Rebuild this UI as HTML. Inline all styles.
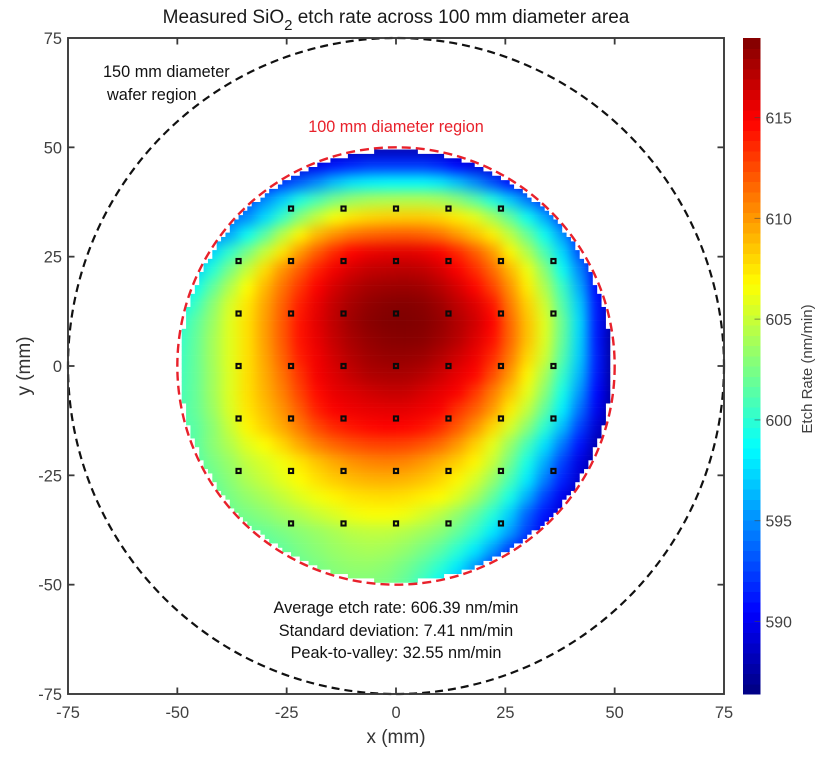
<!DOCTYPE html>
<html lang="en">
<head>
<meta charset="utf-8">
<title>Measured SiO2 etch rate</title>
<style>
html,body{margin:0;padding:0;background:#fff;width:831px;height:758px;overflow:hidden}
svg{display:block;font-family:"Liberation Sans",Arial,sans-serif;filter:blur(0.35px)}
</style>
</head>
<body>
<svg id="chart" xmlns="http://www.w3.org/2000/svg" width="831" height="758" viewBox="0 0 831 758">
  <defs>
    <clipPath id="wafer-clip"></clipPath>
    <filter id="smooth" filterUnits="userSpaceOnUse" x="100" y="90" width="600" height="560" color-interpolation-filters="sRGB">
      <feGaussianBlur stdDeviation="6.5"/>
    </filter>
  </defs>
  <rect width="831" height="758" fill="#fff"/>
  <g clip-path="url(#wafer-clip)">
    <g id="heatmap" filter="url(#smooth)" shape-rendering="crispEdges"></g>
  </g>
  <circle id="outer-circle" fill="none" stroke="#111" stroke-width="2.2" stroke-dasharray="8 5"/>
  <circle id="inner-circle" fill="none" stroke="#e8212b" stroke-width="2.4" stroke-dasharray="9 5"/>
  <g id="points"></g>
  <rect id="plot-box" fill="none" stroke="#3a3a3a" stroke-width="1.9"/>
  <g id="ticks" stroke="#3a3a3a" stroke-width="1.8"></g>
  <g id="tick-labels" font-size="16.4" fill="#404040"></g>

  <text x="396" y="23" text-anchor="middle" font-size="19" fill="#1a1a1a">Measured SiO<tspan dy="7" font-size="15">2</tspan><tspan dy="-7"> etch rate across 100 mm diameter area</tspan></text>
  <text x="396" y="743" text-anchor="middle" font-size="19" fill="#333">x (mm)</text>
  <text transform="translate(30,366) rotate(-90)" text-anchor="middle" font-size="19" fill="#333">y (mm)</text>
  <text x="103" y="77" font-size="16.3" fill="#111">150 mm diameter</text>
  <text x="107" y="100" font-size="16.3" fill="#111">wafer region</text>
  <text x="396" y="132" text-anchor="middle" font-size="16.2" fill="#e8212b">100 mm diameter region</text>
  <text x="396" y="613" text-anchor="middle" font-size="16.3" fill="#111">Average etch rate: 606.39 nm/min</text>
  <text x="396" y="636" text-anchor="middle" font-size="16.3" fill="#111">Standard deviation: 7.41 nm/min</text>
  <text x="396" y="658" text-anchor="middle" font-size="16.3" fill="#111">Peak-to-valley: 32.55 nm/min</text>

  <g id="colorbar" shape-rendering="crispEdges"></g>
  <g id="colorbar-ticks"></g>
  <text transform="translate(812,369) rotate(-90)" text-anchor="middle" font-size="15" fill="#404040">Etch Rate (nm/min)</text>
</svg>
<script>
// ---- data ----
const xCentersMm = [-50,-46,-42,-38,-34,-30,-26,-22,-18,-14,-10,-6,-2,2,6,10,14,18,22,26,30,34,38,42,46,50];
const yCentersMm = [50,46,42,38,34,30,26,22,18,14,10,6,2,-2,-6,-10,-14,-18,-22,-26,-30,-34,-38,-42,-46,-50];
const etchRate = [
[586.8,586.8,586.8,586.8,586.8,586.8,586.8,587,587,587.5,588,588,588,588,588,588,587.5,587,587,586.8,586.8,586.8,586.8,586.8,586.8,586.8],
[587,587,587,587,587.5,588,588.5,589.3,590,591,591.5,592,592,592,592,591.5,590.5,589.5,589,588,587.5,587,587,587,587,587],
[588,588,588.5,589,590,591,592.3,593.5,595,596.7,597.8,598.3,598.5,598.5,598.5,598,596.7,595,593,591,589.5,588,587.5,587,587,587],
[589,589.5,590.5,591.5,593,595,597,599.5,601,602.5,603.5,604,604.2,604.3,604.3,604,603,601.5,599.5,597,594.5,592,589.5,588,587.5,587],
[590,591,592.5,594,595,597.5,600.3,603,605,606.6,607.5,608,608.2,608.3,608.3,608,607.3,606,604,601.8,599,596,592.5,589.5,588,587],
[591,592.5,594.5,596,599,601.5,604.5,607,609,610.3,611.2,611.7,611.9,612,611.8,611.2,610,608.7,607.2,604.7,602,599,595.5,591.5,588.5,587],
[592.5,595,597.5,600.2,602.5,605,607.5,610,612,613.7,614.9,615.5,615.7,615.8,615.6,615,613.7,612,610,607,604.3,601,597.5,593,589.5,587],
[594.5,597,599.8,602.5,605,607.8,610.2,612,613.9,615.3,616.2,616.8,617,617.1,616.9,616.2,615,613.5,611.5,609,606.3,603,599,594.8,590,587],
[596.5,599,601.7,604.3,606.7,609,611.2,613.2,615,616.3,617.2,617.8,618,618.1,617.9,617.2,616.2,614.8,612.8,610.2,607.3,604.2,600.5,596,590.5,587.5],
[598.5,600.5,603,605.5,607.5,609.6,611.8,614,615.6,616.9,617.8,618.4,618.7,618.8,618.6,618,617,616,614.3,611,608.2,605.2,601.3,597,591,587.5],
[599.5,601.5,603.5,605.8,607.7,609.8,612,614.3,615.8,617,618,618.6,618.9,618.95,618.8,618.3,617.4,616.4,614.9,611.6,608.7,605.8,602,597.5,591,587.5],
[600,601.7,603.8,605.8,607.7,609.8,612,614.3,615.6,616.8,617.7,618.3,618.6,618.7,618.6,618,617.2,616,614.5,611.6,608.7,605.7,601.8,597.3,591,587],
[600.3,601.8,603.8,605.8,607.7,609.6,611.7,614,615.3,616.4,617.3,617.9,618.2,618.2,618,617.3,616.4,615.4,613.6,611,608,605.2,601.3,597,591.2,587],
[600.5,601.8,603.7,605.7,607.7,609.4,611.2,613.3,615.2,616,616.8,617.4,617.6,617.6,617.2,616.5,615.6,614.8,612.5,610,607,604,600.3,596.3,591,587],
[600.7,601.8,603.7,605.7,607.7,609.2,610.8,612.8,614.6,615.6,616,616.4,616.7,616.7,616.2,615.6,615,613.2,611,608.7,606,603,599.3,595.3,590.5,587],
[600.8,601.8,603.5,605.6,607.5,608.8,610.2,612,614,615,615.4,615.6,615.7,615.7,615.4,615,613.3,611.9,610,607.3,604.8,601.7,598.2,594,590,587],
[601,601.5,603,605,607,608.2,609.5,611,612.6,613.7,614.3,614.7,614.9,614.8,614.4,613.5,612,610.2,608,605.5,603,600,596.5,592.5,589,586.7],
[601,601.5,603,604.3,605.8,606.7,608,609.5,610.8,611.7,612.3,612.7,612.8,612.7,612.2,611.4,610,608.2,606,603.5,600.8,597.7,594.3,591,588,586.5],
[601,601.3,602.5,603.5,604.8,605.6,606.4,607.5,608.6,609.5,610.2,610.6,610.8,610.6,610,609.2,608.2,607,605,602.3,599.3,596,592.5,589.5,587.5,586.5],
[601,601.2,602,603,604.2,605,605.9,606.8,607.7,608.4,608.9,609.2,609.3,609.1,608.7,608,607,605.5,603.5,601,598,594.5,591.5,589,587.5,586.5],
[601,601,601.5,602.5,603.3,604,604.8,605.7,606.4,607,607.5,607.7,607.8,607.6,607.2,606.8,605.6,604,601.8,599.3,596,592.5,590,588,587,586.5],
[601,601,601.3,602,602.5,603,603.7,604.3,605,605.6,606.3,606.6,606.6,606.3,605.5,604.5,603.3,601.7,599.8,597,593.5,591,589,587.5,587,586.5],
[601,601,601,601.3,601.7,602,602.5,603,603.5,604,604.5,604.7,604.7,604.3,603.7,603,601.8,600.3,598,595.5,592.5,590,588.5,587.5,587,586.5],
[601,601,601,601,601,601.3,601.8,602.5,603,603.5,603.8,604,603.8,603.3,602.5,601.5,600,598,595.5,592.5,590,588.5,587.5,587,586.5,586.5],
[601,601,601,601,601,601,601.5,602,602.5,603,603.3,603.3,603,602.3,601.3,600,598,595.5,592.5,590,588.5,587.5,587,586.5,586.5,586.5],
[601,601,601,601,601,601,601,601.5,602,602.5,602.7,602.7,602.5,601.7,600.3,598.5,596,593.5,591,589.5,588,587,586.5,586.5,586.5,586.5]
];
const measureRowY = [36,24,12,0,-12,-24,-36];
const measureColX = [-36,-24,-12,0,12,24,36];
const axisTicks = [-75,-50,-25,0,25,50,75];
const colorTicks = [590,595,600,605,610,615];
const colorMin = 586.4;
const colorMax = 618.95;
const waferRadiiMm = [75,50];
const cellSizeMm = 4;

// ---- scales ----
const plot = {l:68, r:724, t:38, b:694};
const cbar = {l:743, r:760.5, t:38, b:694};
function sx(v){ return plot.l + (v + 75) / 150 * (plot.r - plot.l); }
function sy(v){ return plot.b - (v + 75) / 150 * (plot.b - plot.t); }
function sc(v){ return cbar.b - (v - colorMin) / (colorMax - colorMin) * (cbar.b - cbar.t); }
function jet(v){
  const t = Math.max(0, Math.min(1, (v - colorMin) / (colorMax - colorMin)));
  const ch = x => Math.round(255 * Math.max(0, Math.min(1, 1.5 - Math.abs(4 * x))));
  return `rgb(${ch(t - 0.75)},${ch(t - 0.5)},${ch(t - 0.25)})`;
}
const NS = 'http://www.w3.org/2000/svg';
function make(tag, parent, attrs){
  const el = document.createElementNS(NS, tag);
  for (const k in attrs) el.setAttribute(k, attrs[k]);
  parent.appendChild(el);
  return el;
}

// frame and circles
const box = document.getElementById('plot-box');
box.setAttribute('x', plot.l); box.setAttribute('y', plot.t);
box.setAttribute('width', plot.r - plot.l); box.setAttribute('height', plot.b - plot.t);
const cx0 = sx(0), cy0 = sy(0), pxPerMm = (plot.r - plot.l) / 150;
['outer-circle','inner-circle'].forEach((id, i) => {
  const c = document.getElementById(id);
  c.setAttribute('cx', cx0); c.setAttribute('cy', cy0);
  c.setAttribute('r', waferRadiiMm[i] * pxPerMm);
});

// stepped edge of the measured area
const clipEl = document.getElementById('wafer-clip');
const edgeStepMm = 1;
const edgeR = waferRadiiMm[1] - 0.7;
for (let gy = -50; gy <= 50; gy++) {
  const yMm = gy * edgeStepMm;
  if (Math.abs(yMm) >= edgeR) continue;
  const half = Math.round(Math.sqrt(edgeR * edgeR - yMm * yMm) / edgeStepMm) * edgeStepMm;
  make('rect', clipEl, {
    x: sx(-half), y: sy(yMm + edgeStepMm / 2),
    width: 2 * half * pxPerMm, height: edgeStepMm * pxPerMm + 0.3
  });
}

// heatmap cells
const heat = document.getElementById('heatmap');
etchRate.forEach((row, j) => {
  row.forEach((val, i) => {
    const cell = make('rect', heat, {
      x: sx(xCentersMm[i] - cellSizeMm / 2), y: sy(yCentersMm[j] + cellSizeMm / 2),
      width: cellSizeMm * pxPerMm + 0.5, height: cellSizeMm * pxPerMm + 0.5, fill: jet(val)
    });
    
    
  });
});

// measurement points
const pts = document.getElementById('points');
measureRowY.forEach(y => {
  measureColX.forEach(x => {
    if (Math.hypot(x, y) > 48) return;
    const p = make('rect', pts, {
      x: sx(x) - 2.1, y: sy(y) - 2.1, width: 4.2, height: 4.2,
      fill: 'none', stroke: '#0a0a0a', 'stroke-width': 2
    });
    
    
  });
});

// axis ticks
const tg = document.getElementById('ticks');
const lg = document.getElementById('tick-labels');
const tickLen = 6.5;
axisTicks.forEach(v => {
  const X = sx(v), Y = sy(v);
  if (v !== -75 && v !== 75) {
    make('line', tg, {x1:X, x2:X, y1:plot.b, y2:plot.b - tickLen});
    make('line', tg, {x1:X, x2:X, y1:plot.t, y2:plot.t + tickLen});
    make('line', tg, {y1:Y, y2:Y, x1:plot.l, x2:plot.l + tickLen});
    make('line', tg, {y1:Y, y2:Y, x1:plot.r, x2:plot.r - tickLen});
  }
  const xl = make('text', lg, {x:X, y:plot.b + 24, 'text-anchor':'middle'});
  xl.textContent = v;
  
  
  const yl = make('text', lg, {x:plot.l - 6, y:Y + 6, 'text-anchor':'end'});
  yl.textContent = v;
  
  
});

// colorbar
const cb = document.getElementById('colorbar');
const cbSteps = 64;
for (let i = 0; i < cbSteps; i++) {
  const v0 = colorMin + (colorMax - colorMin) * i / cbSteps;
  const v1 = colorMin + (colorMax - colorMin) * (i + 1) / cbSteps;
  const seg = make('rect', cb, {
    x: cbar.l, width: cbar.r - cbar.l, y: sc(v1), height: sc(v0) - sc(v1) + 0.6,
    fill: jet((v0 + v1) / 2)
  });
  
  
}
const cbt = document.getElementById('colorbar-ticks');
colorTicks.forEach(v => {
  make('line', cbt, {x1:cbar.r - 6, x2:cbar.r, y1:sc(v), y2:sc(v), stroke:'#444', 'stroke-width':1, opacity:0.6});
  const t = make('text', cbt, {x:cbar.r + 5, y:sc(v) + 6, 'font-size':15.8, fill:'#404040'});
  t.textContent = v;
  
  
});
</script>
</body>
</html>
